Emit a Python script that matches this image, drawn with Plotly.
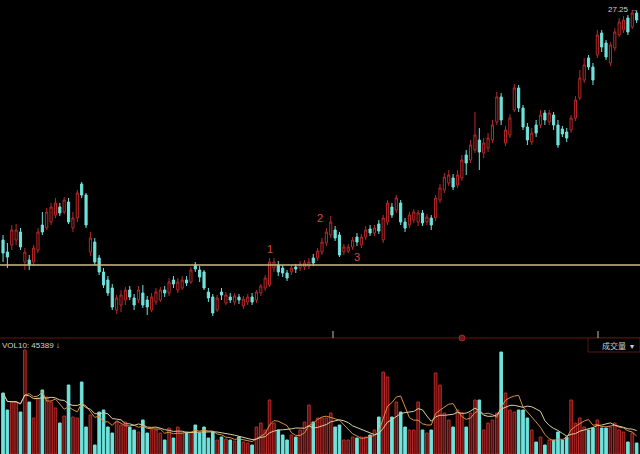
import plotly.graph_objects as go
import pandas as pd

# ---------------- data ----------------
open_ = [15.75,15.15,15.50,15.75,16.15,14.65,14.75,14.65,15.25,16.50,
 16.35,16.65,17.00,17.40,17.15,17.65,16.35,16.85,18.55,18.00,
 15.15,15.65,14.85,14.15,13.75,13.35,12.25,12.50,12.75,13.25,
 12.85,12.75,13.10,12.75,12.25,12.65,12.75,13.25,13.10,13.75,
 13.25,13.35,13.75,13.65,14.50,14.25,14.15,13.15,12.90,12.25,
 13.15,12.60,12.90,12.65,12.90,12.45,12.65,12.90,12.75,13.10,
 13.35,13.50,14.35,14.50,14.35,14.10,14.15,14.40,14.35,14.40,
 14.45,14.85,14.85,15.15,15.60,16.00,16.25,16.00,15.15,15.20,
 15.40,15.90,15.50,15.90,16.30,16.10,16.55,15.75,16.65,17.40,
 17.25,17.60,16.65,16.50,16.75,16.65,17.10,16.65,16.85,16.85,
 17.75,18.25,18.60,18.85,18.50,18.85,20.00,19.75,20.25,20.75,
 20.10,20.35,20.75,21.65,22.90,20.60,21.00,22.25,23.35,22.35,
 21.40,20.65,21.50,21.50,22.10,21.65,22.00,21.50,21.30,21.15,
 21.25,21.85,22.85,23.75,24.85,24.40,25.00,26.10,25.60,24.60,
 25.35,26.00,26.25,26.85,26.40,27.10]

high = [16.00,15.60,16.50,16.55,16.35,15.35,15.00,15.50,16.35,17.15,
 17.35,17.60,17.85,17.60,17.90,17.85,17.15,18.25,18.65,18.10,
 16.15,15.85,15.00,14.35,13.95,13.55,13.00,13.25,13.40,13.45,
 13.05,13.45,13.50,12.95,13.10,13.35,13.40,13.45,13.85,13.95,
 13.85,13.95,13.95,14.40,14.65,14.45,14.25,13.35,13.05,13.00,
 13.35,13.15,13.10,13.10,13.05,12.95,13.05,13.10,13.25,13.55,
 14.00,14.85,14.85,14.70,14.50,14.25,14.50,14.55,14.70,14.75,
 14.85,15.05,15.35,15.85,16.35,16.95,16.45,16.15,15.55,15.55,
 15.90,16.10,16.05,16.45,16.50,16.50,16.75,17.00,17.75,17.60,
 18.00,17.75,16.85,17.15,17.30,17.25,17.25,17.05,17.00,18.00,
 18.55,19.10,19.25,19.05,19.25,20.00,20.25,20.75,22.15,21.35,
 20.85,21.10,21.75,23.15,23.10,21.45,22.05,23.55,23.50,22.50,
 21.60,21.35,21.75,22.25,22.25,22.25,22.15,21.75,21.45,21.35,
 22.00,22.95,24.25,24.85,25.00,24.60,26.25,26.25,25.75,25.65,
 26.35,26.85,26.95,27.00,27.25,27.20]

low = [14.65,14.35,15.25,15.50,15.25,14.25,14.25,14.45,15.10,16.00,
 16.25,16.50,16.85,16.95,17.05,16.55,16.15,16.65,17.85,16.35,
 14.95,14.50,14.00,13.35,12.95,12.25,12.05,12.15,12.50,12.75,
 12.25,12.60,12.35,12.00,12.15,12.50,12.65,12.90,12.95,13.35,
 13.10,13.25,13.45,13.55,14.15,13.65,13.25,12.65,11.95,12.15,
 12.75,12.50,12.60,12.50,12.55,12.30,12.50,12.50,12.60,12.95,
 13.20,13.40,14.15,13.95,13.90,13.70,14.00,14.10,14.20,14.25,
 14.30,14.45,14.70,15.00,15.45,15.85,15.70,14.90,15.00,15.10,
 15.25,15.45,15.35,15.75,15.95,15.95,16.05,15.60,16.50,16.85,
 17.10,16.50,16.15,16.35,16.60,16.45,16.45,16.50,16.25,16.70,
 17.60,18.10,18.45,18.25,18.35,18.70,19.00,19.60,20.10,19.25,
 19.85,20.15,20.60,21.50,21.50,20.45,20.85,22.15,22.15,21.25,
 20.50,20.50,20.90,21.35,21.50,21.50,21.25,20.35,20.90,20.65,
 21.10,21.70,22.75,23.60,24.25,23.50,24.85,25.15,24.75,24.45,
 25.20,25.90,26.10,26.00,26.30,26.60]

close = [15.10,14.90,16.25,16.25,15.40,15.15,14.50,15.35,16.15,16.15,
 17.15,17.40,17.60,17.10,17.75,16.65,16.85,18.10,18.00,16.50,
 15.85,14.65,14.15,13.50,13.10,12.40,12.85,13.00,13.25,12.90,
 12.50,13.25,12.50,12.40,12.90,13.15,13.25,13.10,13.65,13.55,
 13.65,13.75,13.60,14.25,14.30,13.90,13.35,12.85,12.10,12.85,
 13.00,13.00,12.75,12.95,12.75,12.80,12.90,12.65,13.15,13.45,
 13.85,14.65,14.65,14.15,14.10,13.85,14.35,14.30,14.55,14.60,
 14.65,14.60,15.20,15.65,16.15,16.65,15.85,15.00,15.40,15.40,
 15.75,15.65,15.90,16.25,16.10,16.35,16.20,16.85,17.60,17.00,
 17.85,16.65,16.35,17.00,17.15,17.10,16.60,16.90,16.50,17.85,
 18.35,18.90,19.00,18.40,19.00,19.75,19.60,20.50,21.00,20.15,
 20.60,20.85,21.50,22.90,21.75,21.25,21.85,23.35,22.35,21.40,
 20.75,21.10,21.10,22.00,21.75,22.10,21.50,20.50,21.05,20.85,
 21.85,22.75,23.85,24.50,24.40,23.75,26.00,25.40,24.90,25.50,
 26.15,26.65,26.75,26.15,27.10,26.75]

volume = [122000, 88000, 104000, 104000, 84000, 208000, 104000, 72000, 112000, 128000,
 114000, 104000, 92000, 62000, 76000, 138000, 74000, 72000, 144000, 54000,
 78000, 18000, 84000, 88000, 54000, 42000, 64000, 58000, 64000, 54000,
 48000, 44000, 68000, 42000, 48000, 48000, 42000, 28000, 52000, 32000,
 54000, 42000, 42000, 44000, 58000, 42000, 54000, 32000, 44000, 28000,
 34000, 30000, 28000, 26000, 34000, 24000, 22000, 18000, 54000, 62000,
 48000, 108000, 62000, 48000, 38000, 28000, 38000, 34000, 48000, 64000,
 98000, 64000, 72000, 72000, 72000, 82000, 54000, 58000, 28000, 28000,
 34000, 32000, 34000, 34000, 38000, 48000, 74000, 164000, 154000, 74000,
 104000, 84000, 54000, 48000, 48000, 104000, 48000, 42000, 48000, 162000,
 138000, 82000, 68000, 54000, 88000, 82000, 54000, 82000, 108000, 108000,
 48000, 62000, 68000, 82000, 204000, 122000, 88000, 84000, 88000, 88000,
 72000, 48000, 24000, 34000, 18000, 28000, 28000, 44000, 28000, 34000,
 108000, 62000, 72000, 54000, 48000, 52000, 68000, 52000, 52000, 54000,
 62000, 48000, 44000, 24000, 42000, 22000]

support_level = 14.50
wave_labels = ["1", "2", "3"]
wave_x = [61, 72.6, 81]
wave_y = [15.30, 16.85, 14.90]
max_label = "27.25 →"
vol_label = "VOL10: 45389 ↓"

# ---------------- figure ----------------
idx = list(range(len(close)))
RED = "#b82828"
CYAN = "#6fe3dc"

up = [c >= o for o, c in zip(open_, close)]
vol_fill = ["#5a1010" if u else CYAN for u in up]
vol_line = [RED if u else CYAN for u in up]

vs = pd.Series(volume, dtype=float)
ma5 = vs.rolling(5, min_periods=1).mean()
ma10 = vs.rolling(10, min_periods=1).mean()

fig = go.Figure()
fig.add_trace(go.Candlestick(
    x=idx, open=open_, high=high, low=low, close=close,
    increasing=dict(line=dict(color=RED, width=1), fillcolor="#000000"),
    decreasing=dict(line=dict(color=CYAN, width=1), fillcolor=CYAN),
    whiskerwidth=0, xaxis="x", yaxis="y", showlegend=False, hoverinfo="skip"))

fig.add_trace(go.Bar(
    x=idx, y=volume, width=0.6,
    marker=dict(color=vol_fill, line=dict(color=vol_line, width=1)),
    xaxis="x2", yaxis="y2", showlegend=False, hoverinfo="skip"))
fig.add_trace(go.Scatter(x=idx, y=ma5, mode="lines",
    line=dict(color="#d98f45", width=1), xaxis="x2", yaxis="y2",
    showlegend=False, hoverinfo="skip"))
fig.add_trace(go.Scatter(x=idx, y=ma10, mode="lines",
    line=dict(color="#d8d0a0", width=1), xaxis="x2", yaxis="y2",
    showlegend=False, hoverinfo="skip"))

W, H = 640, 454
xr = [-0.69, 145.77]
main_bottom = 1 - 338 / H
vol_top = 106 / H

fig.update_layout(
    width=W, height=H,
    margin=dict(l=0, r=0, t=0, b=0),
    paper_bgcolor="#000000", plot_bgcolor="#000000",
    font=dict(family="Liberation Sans, Arial, sans-serif", color="#d0d0d0"),
    xaxis=dict(domain=[0, 1], range=xr, anchor="y", showgrid=False,
               showticklabels=False, zeroline=False, showline=False,
               rangeslider=dict(visible=False)),
    yaxis=dict(domain=[main_bottom, 1], range=[10.85, 27.75], showgrid=False,
               showticklabels=False, zeroline=False, showline=False),
    xaxis2=dict(domain=[0, 1], range=xr, anchor="y2", matches="x",
                showgrid=False, showticklabels=False, zeroline=False, showline=False),
    yaxis2=dict(domain=[0, vol_top], range=[0, 212000], showgrid=False,
                showticklabels=False, zeroline=False, showline=False),
    bargap=0.3,
)

# support line
fig.add_shape(type="line", xref="paper", yref="y", x0=0, x1=1,
              y0=support_level, y1=support_level,
              line=dict(color="#cdbb8a", width=1.5))
# separator
fig.add_shape(type="line", xref="paper", yref="paper", x0=0, x1=1,
              y0=main_bottom, y1=main_bottom, line=dict(color="#6a1212", width=1))
# box for 成交量
fig.add_shape(type="rect", xref="paper", yref="paper",
              x0=588 / W, x1=1, y0=1 - 352 / H, y1=main_bottom,
              line=dict(color="#5a1414", width=1), fillcolor="#000000")
# small markers on separator
fig.add_shape(type="line", xref="paper", yref="paper", x0=333 / W, x1=333 / W,
              y0=main_bottom, y1=1 - 331 / H, line=dict(color="#bfbfbf", width=1))
fig.add_shape(type="line", xref="paper", yref="paper", x0=598 / W, x1=598 / W,
              y0=main_bottom, y1=1 - 331 / H, line=dict(color="#bfbfbf", width=1))
fig.add_shape(type="circle", xref="paper", yref="paper",
              x0=459 / W, x1=465 / W, y0=1 - 341 / H, y1=1 - 335 / H,
              line=dict(color="#a02a2a", width=1), fillcolor="#6a1a1a")

for t, xv, yv in zip(wave_labels, wave_x, wave_y):
    fig.add_annotation(x=xv, y=yv, xref="x", yref="y", text=t, showarrow=False,
                       font=dict(size=11, color="#d84848"))

fig.add_annotation(x=1, y=1 - 10 / H, xref="paper", yref="paper", text=max_label,
                   xanchor="right", yanchor="middle", showarrow=False,
                   font=dict(size=8, color="#d0d0d0"))
fig.add_annotation(x=0, y=1 - 345 / H, xref="paper", yref="paper", text=vol_label,
                   xanchor="left", yanchor="middle", showarrow=False,
                   font=dict(size=8, color="#d0d0d0"))
fig.add_annotation(x=1 - 4 / W, y=1 - 345 / H, xref="paper", yref="paper",
                   text="成交量 &nbsp;▾", xanchor="right", yanchor="middle",
                   showarrow=False,
                   font=dict(size=8, color="#d0d0d0",
                             family="Noto Sans CJK SC, sans-serif"))

fig.write_html(
    "out.html",
    config={"displayModeBar": False},
    post_script="document.body.style.margin='0';document.body.style.overflow='hidden';"
                "document.body.style.background='#000';",
)
